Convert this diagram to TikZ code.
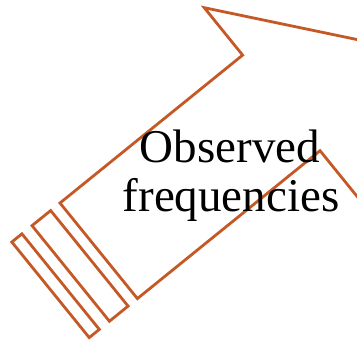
\documentclass[tikz,border=0pt]{standalone}
\usepackage{fontspec}
\setmainfont{Liberation Serif}
\definecolor{arrowline}{RGB}{196,89,38}
\begin{document}
\begin{tikzpicture}[x=1pt,y=1pt,
  outline/.style={draw=arrowline,line width=2.8pt,fill=white,line join=miter},
  label/.style={font=\fontsize{47}{48}\selectfont,inner sep=0pt,anchor=base,text=black}]
\useasboundingbox (0,0) rectangle (357,340);
\clip (0,0) rectangle (357,340);
% striped arrow, tilted 39 degrees, origin at the body's back corner
\begin{scope}[shift={(60,137)},rotate=39]
  \draw[outline] (-62,0) rectangle (-49,-123);
  \draw[outline] (-36,0) rectangle (-12,-123);
  \draw[outline] (0,0) -- (235,0) -- (235,61) -- (335,-61.5)
    -- (235,-184) -- (235,-123) -- (0,-123) -- cycle;
\end{scope}
\node[label] (top) at (230,177) {Observed};
\node[label] (bottom) at (231,128) {frequencies};
\end{tikzpicture}
\end{document}
